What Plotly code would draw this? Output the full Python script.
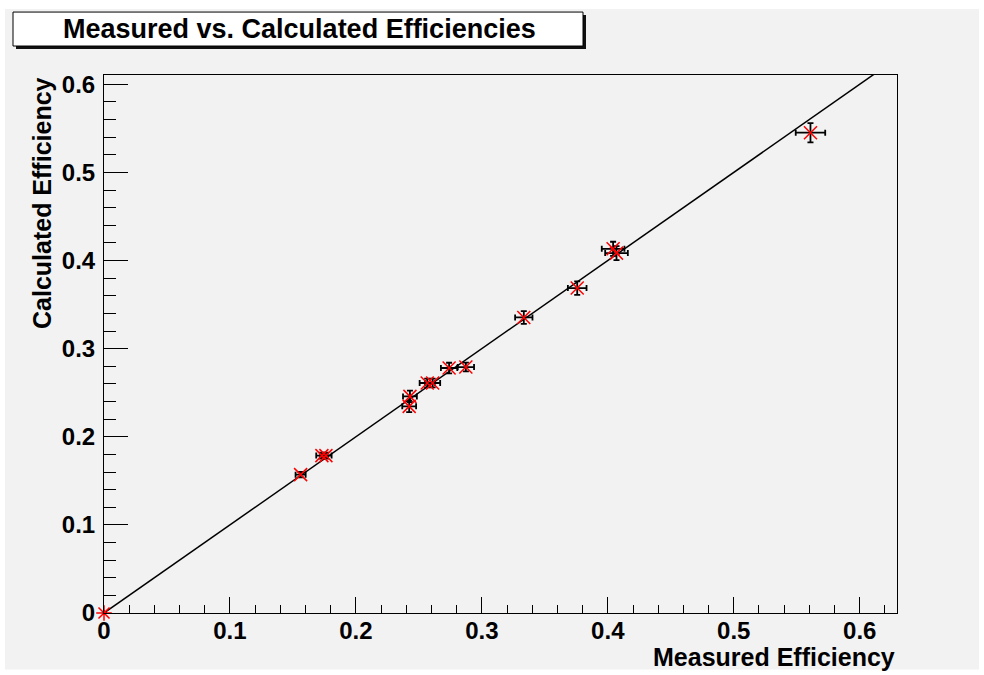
import plotly.graph_objects as go

# ---- data ----
measured = [0.0, 0.1561, 0.1730, 0.1762, 0.2429, 0.2423, 0.2566, 0.2609,
            0.2740, 0.2873, 0.3333, 0.3757, 0.4042, 0.4069, 0.5609]
calculated = [0.0, 0.1570, 0.1786, 0.1786, 0.2458, 0.2345, 0.2610, 0.2610,
              0.2780, 0.2791, 0.3354, 0.3687, 0.4133, 0.4084, 0.5450]
measured_err = [0.0, 0.0040, 0.0045, 0.0045, 0.0055, 0.0055, 0.0060, 0.0060,
                0.0065, 0.0065, 0.0069, 0.0074, 0.0090, 0.0090, 0.0117]
calculated_err = [0.0, 0.0030, 0.0035, 0.0035, 0.0065, 0.0065, 0.0050, 0.0050,
                  0.0060, 0.0050, 0.0072, 0.0076, 0.0080, 0.0080, 0.0110]
diag_x = [0.0, 0.63]
diag_y = [0.0, 0.63]
tick_vals = [0.0, 0.1, 0.2, 0.3, 0.4, 0.5, 0.6]
tick_text = ["0", "0.1", "0.2", "0.3", "0.4", "0.5", "0.6"]

title_text = "Measured vs. Calculated Efficiencies"
x_title = "Measured Efficiency"
y_title = "Calculated Efficiency"
x_range = [0, 0.6296]
y_range = [0, 0.6105]

W, H = 984, 675
L, R, T, B = 104, 897, 75, 613.5
FONT = "Liberation Sans"
BG = "#f2f2f2"


def px(xp):
    return (xp - L) / (R - L)


def py(yp):
    return (B - yp) / (B - T)


fig = go.Figure()

fig.add_trace(go.Scatter(
    x=diag_x, y=diag_y, mode="lines",
    line=dict(color="black", width=1.5),
    hoverinfo="skip", showlegend=False,
))

symbols = ["asterisk-open"] + ["x-thin-open"] * (len(measured) - 1)

fig.add_trace(go.Scatter(
    x=measured, y=calculated, mode="markers",
    marker=dict(symbol=symbols, size=13, color="red",
                line=dict(color="red", width=1.5)),
    error_x=dict(type="data", array=measured_err, color="black",
                 thickness=1.8, width=3),
    error_y=dict(type="data", array=calculated_err, color="black",
                 thickness=1.8, width=3),
    showlegend=False, cliponaxis=False,
))

shapes = [
    # grey canvas
    dict(type="rect", xref="paper", yref="paper", layer="below",
         x0=px(5), x1=px(979), y0=py(670), y1=py(9),
         fillcolor=BG, line=dict(width=0)),
    # title box shadow
    dict(type="rect", xref="paper", yref="paper",
         x0=px(16), x1=px(586), y0=py(49), y1=py(15),
         fillcolor="#111111", line=dict(width=0)),
    # title box
    dict(type="rect", xref="paper", yref="paper",
         x0=px(13), x1=px(583), y0=py(46), y1=py(12),
         fillcolor="white", line=dict(color="black", width=1)),
]

annotations = [
    dict(text=title_text, xref="paper", yref="paper",
         x=px(299), y=py(29), xanchor="center", yanchor="middle",
         showarrow=False,
         font=dict(family=FONT, size=27, color="black", weight="bold")),
    dict(text=x_title, xref="paper", yref="paper",
         x=1.0, y=py(658), xanchor="right", yanchor="middle",
         showarrow=False,
         font=dict(family=FONT, size=25, color="black", weight="bold")),
    dict(text=y_title, xref="paper", yref="paper",
         x=px(42), y=1.0, xanchor="center", yanchor="top",
         textangle=-90, showarrow=False,
         font=dict(family=FONT, size=25, color="black", weight="bold")),
]

tickfont = dict(family=FONT, size=24, color="black", weight="bold")

fig.update_layout(
    width=W, height=H, autosize=False,
    margin=dict(l=L, r=W - R, t=T, b=H - B, pad=0),
    paper_bgcolor="white", plot_bgcolor=BG,
    shapes=shapes, annotations=annotations,
    xaxis=dict(range=x_range, tickmode="array", tickvals=tick_vals,
               ticktext=tick_text, ticks="inside",
               ticklen=16, tickwidth=1, tickcolor="black",
               minor=dict(dtick=0.02, tick0=0, ticks="inside", ticklen=8,
                          tickwidth=1, tickcolor="black"),
               showline=True, linecolor="black", linewidth=1, mirror=True,
               showgrid=False, zeroline=False, tickfont=tickfont,
               ticklabelstandoff=-4, automargin=False),
    yaxis=dict(range=y_range, tickmode="array", tickvals=tick_vals,
               ticktext=tick_text, ticks="inside",
               ticklen=24, tickwidth=1, tickcolor="black",
               minor=dict(dtick=0.02, tick0=0, ticks="inside", ticklen=12,
                          tickwidth=1, tickcolor="black"),
               showline=True, linecolor="black", linewidth=1, mirror=True,
               showgrid=False, zeroline=False, tickfont=tickfont,
               ticklabelstandoff=3, automargin=False),
)

fig.write_html("out.html")
